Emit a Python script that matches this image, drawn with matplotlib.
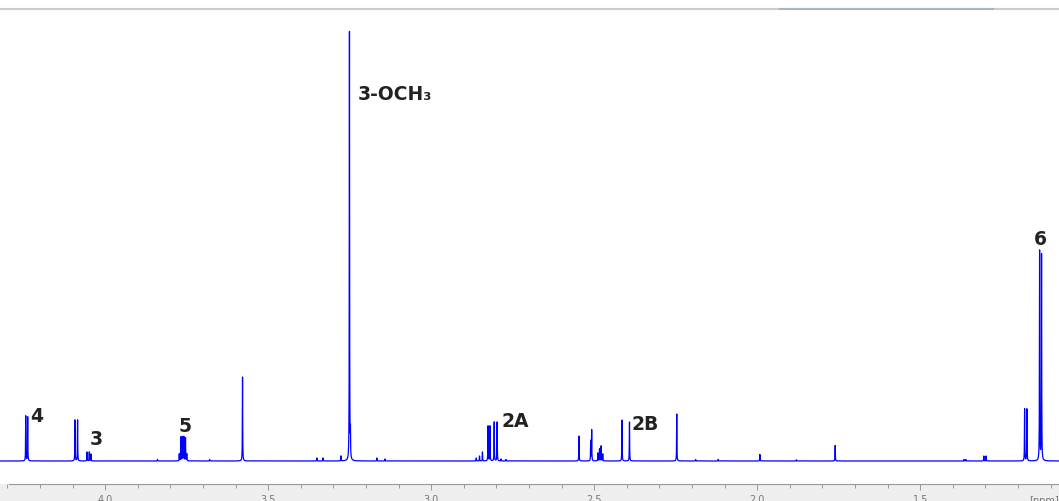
import numpy as np
import matplotlib.pyplot as plt
from matplotlib.patches import Rectangle
from matplotlib.ticker import MultipleLocator

peak_ppm = [4.244, 4.238, 4.093, 4.085, 4.056, 4.049, 4.044,
            3.84, 3.68,
            3.773, 3.768, 3.763, 3.759, 3.754, 3.750,
            3.579, 3.351, 3.332, 3.277, 3.251, 3.248, 3.167, 3.142,
            2.862, 2.852, 2.843, 2.826, 2.820, 2.807, 2.798, 2.786, 2.771,
            2.547, 2.511, 2.508, 2.489, 2.484, 2.479, 2.474,
            2.415, 2.392, 2.247, 2.189, 2.120, 1.992, 1.880, 1.761,
            1.366, 1.360, 1.305, 1.298, 1.180, 1.173, 1.134, 1.128]
peak_height = [45, 44, 41, 41, 9, 9, 7,
               1.5, 1.5,
               7, 24, 24, 24, 23, 7,
               84, 3, 3, 5, 429, 25, 3, 2,
               3, 5, 9, 35, 35, 39, 39, 2, 1.5,
               25, 20, 31, 8, 12, 15, 7,
               41, 39, 47, 1.5, 1.5, 6.5, 1.2, 15.5,
               1.5, 1.5, 5, 5, 52, 52, 210, 206]

labels = ["4", "3", "5", "3-OCH\u2083", "2A", "2B", "6"]
label_ppm = [4.229, 4.047, 3.776, 3.225, 2.786, 2.387, 1.151]
label_y = [40, 17, 30, 362, 35, 32, 217]

ppm = np.linspace(1.07, 4.33, 80000)
hwhm = 0.0005
spec = np.zeros_like(ppm)
for p, h in zip(peak_ppm, peak_height):
    spec += h / (1 + ((ppm - p) / hwhm) ** 2)

fig = plt.figure(figsize=(10.59, 5.02), dpi=100)
fig.patches.append(Rectangle((0, 0), 1, 17 / 502, transform=fig.transFigure,
                             facecolor='#eeeeee', edgecolor='none', zorder=-1))
ax = fig.add_axes([0, 17 / 502, 1, 475 / 502])
ax.set_facecolor('white')
ax.plot(ppm, spec, color='#0000ff', linewidth=0.9)
ax.set_xlim(4.323, 1.0745)
ax.set_ylim(-23, 452)

for t, x, y in zip(labels, label_ppm, label_y):
    ax.text(x, y, t, fontsize=13.5, fontweight='bold', color='#222222',
            ha='left', va='baseline')

ax.text(1.0, -0.024, "[ppm]", transform=ax.transAxes, ha='right', va='top',
        fontsize=7, color='#777777', clip_on=False)

for s in ['left', 'right']:
    ax.spines[s].set_visible(False)
ax.spines['top'].set_color('#cccccc')
ax.spines['top'].set_linewidth(1.5)
ax.spines['bottom'].set_color('#999999')
ax.spines['bottom'].set_linewidth(0.8)
ax.spines['bottom'].set_bounds(4.295, 1.0745)
ax.plot([0.737, 0.938], [1.0, 1.0], transform=ax.transAxes, color='#aab4c0',
        linewidth=1.5, clip_on=False, zorder=5)

ax.yaxis.set_visible(False)
ax.xaxis.set_major_locator(MultipleLocator(0.5))
ax.xaxis.set_minor_locator(MultipleLocator(0.1))
ax.xaxis.set_major_formatter(plt.FormatStrFormatter('%.1f'))
ax.tick_params(axis='x', which='major', direction='out', length=4.3, width=0.7,
               color='#999999', labelsize=7, labelcolor='#777777', pad=3)
ax.tick_params(axis='x', which='minor', direction='out', length=2.9, width=0.7,
               color='#999999')

fig.savefig('out.png', dpi=100)
